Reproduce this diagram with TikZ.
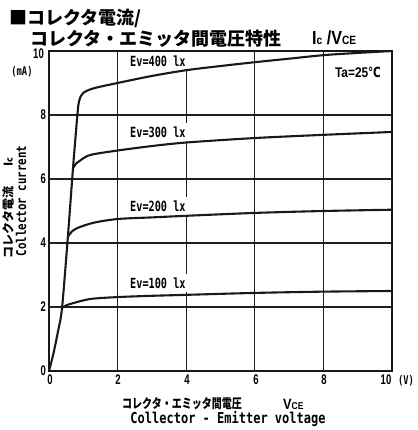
\documentclass[tikz,border=0pt]{standalone}
\usepackage{fontspec}
\newfontfamily\jp{Noto Sans CJK JP}
\newfontfamily\jpc{Noto Sans CJK JP}[FakeStretch=0.77]
\newfontfamily\dig{Liberation Sans}[FakeStretch=0.68]
\newfontfamily\digw{Liberation Sans}[FakeStretch=0.85]
\newfontfamily\monoA{DejaVu Sans Mono}[FakeStretch=0.73]
\newfontfamily\monoB{DejaVu Sans Mono}[FakeStretch=0.8]
\newfontfamily\dvs{DejaVu Sans}[FakeStretch=0.75]
\begin{document}
\begin{tikzpicture}[x=1pt,y=-1pt,
  gridl/.style={line width=1.25pt, black!88},
  frame/.style={line width=1.4pt, black!90},
  curv/.style={line width=2.1pt, black!90, line cap=round, line join=round},
  ticklab/.style={font=\dig\bfseries\fontsize{14}{14}\selectfont, inner sep=0pt},
  evlab/.style={font=\monoA\bfseries\fontsize{14}{14}\selectfont, fill=white, inner xsep=1pt, inner ysep=4pt, anchor=west},
  unitlab/.style={font=\monoA\bfseries\fontsize{12}{12}\selectfont, inner sep=0pt},
  titlelab/.style={font=\jp\bfseries\fontsize{18}{18}\selectfont, inner sep=0pt, anchor=west}
]
\useasboundingbox (0,0) rectangle (417,430);
\fill[white] (0,0) rectangle (417,430);

% title
\node[titlelab] (t1) at (9,18) {■コレクタ電流/};
\node[titlelab] (t2) at (30,39) {コレクタ・エミッタ間電圧特性};
\node[font=\digw\bfseries\fontsize{19}{19}\selectfont, inner sep=0pt, anchor=base west] (t3) at (312,45)
  {I{\fontsize{12}{12}\selectfont c} /V{\fontsize{12}{12}\selectfont CE}};

\begin{scope}[shift={(49,371)}, x=34.3pt, y=32pt]
  % grid
  \foreach \v in {2,4,6,8} {
    \draw[gridl] (\v,0) -- (\v,10);
    \draw[gridl] (0,\v) -- (10,\v);
  }
  \coordinate (o) at (0,0);
  \coordinate (tr) at (10,10);
\end{scope}

% curve labels (white boxes break the grid)
\node[evlab] (e400) at (129,61) {Ev=400 lx};
\node[evlab] (e300) at (129,132) {Ev=300 lx};
\node[evlab] (e200) at (129,206) {Ev=200 lx};
\node[evlab] (e100) at (129,283) {Ev=100 lx};
\node[font=\digw\bfseries\fontsize{14}{14}\selectfont, inner sep=0pt] (ta) at (358,72) {Ta=25{\dvs\bfseries ℃}};

\begin{scope}[shift={(49,371)}, x=34.3pt, y=32pt]
  \draw[curv] plot[smooth, tension=0.5] coordinates {(0,0) (0.13,0.55) (0.27,1.28) (0.38,1.97) (0.55,4.19) (0.70,6.34) (0.83,8.03) (0.88,8.45) (0.99,8.68) (1.29,8.83) (2,9.0) (3,9.22) (4,9.4) (5,9.53) (6,9.65) (7,9.76) (8,9.87) (9,9.94) (10,10)};
  \draw[curv] plot[smooth, tension=0.5] coordinates {(0.70,6.34) (0.78,6.47) (0.9,6.57) (1.2,6.75) (2,6.89) (3,7.03) (4,7.14) (6,7.28) (8,7.38) (10,7.47)};
  \draw[curv] plot[smooth, tension=0.5] coordinates {(0.55,4.19) (0.65,4.34) (0.81,4.46) (1.29,4.63) (2,4.75) (3,4.8) (4,4.85) (6,4.94) (8,5.0) (10,5.04)};
  \draw[curv] plot[smooth, tension=0.5] coordinates {(0.38,1.97) (0.5,2.05) (0.67,2.11) (1.2,2.25) (2,2.31) (3,2.35) (4,2.38) (6,2.44) (8,2.48) (10,2.5)};
\end{scope}

\draw[frame] (o) rectangle (tr);

% y ticks
\node[ticklab, anchor=east] (y10) at (44,54) {10};
\node[ticklab, anchor=east] (y8) at (46,115) {8};
\node[ticklab, anchor=east] (y6) at (46,179) {6};
\node[ticklab, anchor=east] (y4) at (46,243) {4};
\node[ticklab, anchor=east] (y2) at (46,307) {2};
\node[ticklab, anchor=east] (y0) at (46,371) {0};
% x ticks
\node[ticklab] (x0) at (50,380) {0};
\node[ticklab] (x2) at (118,380) {2};
\node[ticklab] (x4) at (187,380) {4};
\node[ticklab] (x6) at (256,380) {6};
\node[ticklab] (x8) at (324,380) {8};
\node[ticklab] (x10) at (386,380) {10};
\node[unitlab] (uv) at (406,381) {(V)};
\node[unitlab] (uma) at (22,72) {(mA)};

% axis titles
\node[font=\jpc\bfseries\fontsize{13}{13}\selectfont, inner sep=0pt, anchor=base west] (xj) at (122,408) {コレクタ・エミッタ間電圧};
\node[font=\digw\bfseries\fontsize{15}{15}\selectfont, inner sep=0pt, anchor=base west] (xv) at (283,409) {V{\fontsize{10}{10}\selectfont CE}};
\node[font=\monoB\bfseries\fontsize{15}{15}\selectfont, inner sep=0pt, anchor=base] (xe) at (228,423) {Collector - Emitter voltage};
\node[font=\jp\bfseries\fontsize{12}{12}\selectfont, inner sep=0pt, rotate=90] (yj) at (8,208) {コレクタ電流\hspace{20pt}I{\fontsize{9}{9}\selectfont c}};
\node[font=\monoB\bfseries\fontsize{13.5}{13.5}\selectfont, inner sep=0pt, rotate=90] (ye) at (21,201) {Collector current};
\end{tikzpicture}
\end{document}
